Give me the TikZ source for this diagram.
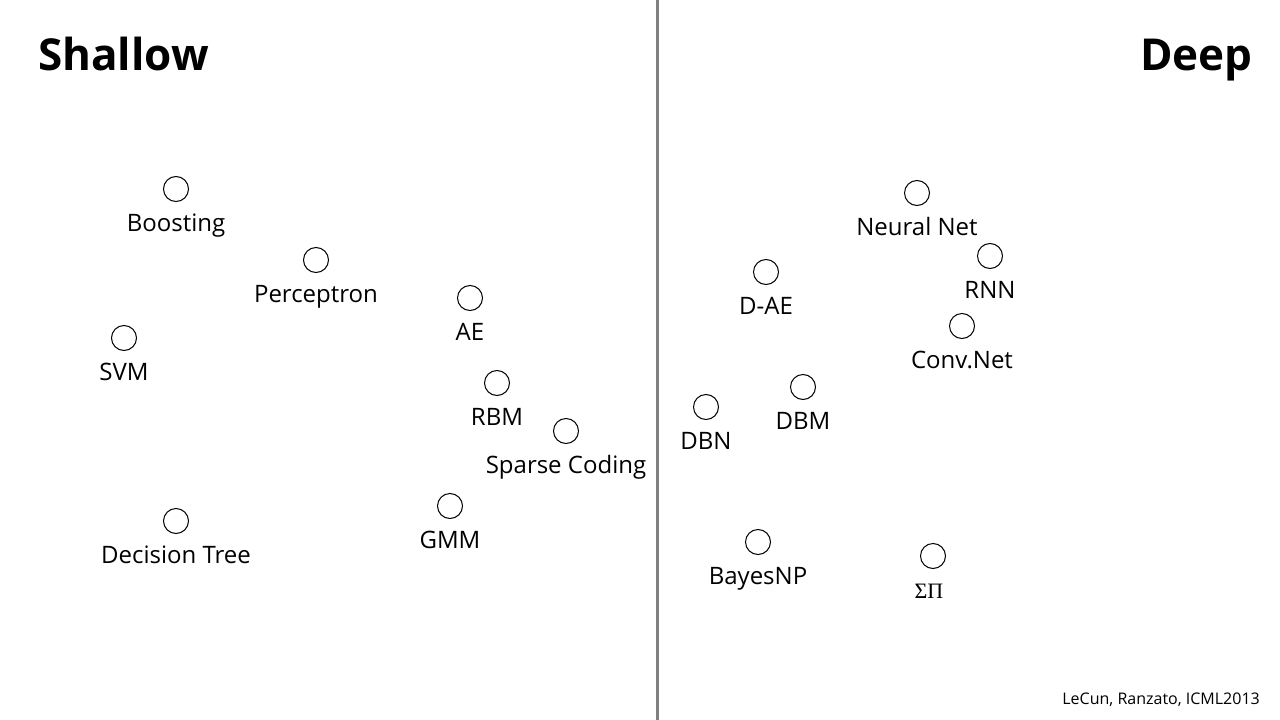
\documentclass[tikz,border=0pt]{standalone}
\usepackage{fontspec}
\setmainfont{Open Sans}
\newfontfamily\greekfont{Liberation Serif}
\usetikzlibrary{positioning}

\tikzset{
    algo/.style={circle, draw=black, line width=1pt, minimum size=25pt, inner sep=0pt},
    algotext/.style={anchor=base, inner sep=0pt, font=\fontsize{24}{28}\selectfont},
    side/.style={inner sep=0pt, font=\fontsize{44}{50}\selectfont\bfseries}
}

\begin{document}
\begin{tikzpicture}[x=1pt, y=-1pt]

    \useasboundingbox[fill=white] (0,0) rectangle (1280,720);

    % 1. The divider between the two halves
    \coordinate (top) at (657,0);
    \coordinate (bottom) at (657,720);
    \draw[gray, line width=3pt] (top) -- (bottom);

    % 2. Headings and credit
    \node[side, anchor=base west] (shallow) at (38,70) {Shallow};
    \node[side, anchor=base east] (deep) at (1253,70) {Deep};
    \node[anchor=base east, inner sep=0pt, font=\fontsize{16}{19}\selectfont]
        (credit) at (1260,704) {LeCun, Ranzato, ICML2013};

    % 3. Shallow methods: circle and name below
    \foreach \n/\x/\y/\t in {boost/176/189/Boosting, perc/316/260/Perceptron,
        ae/470/298/AE, svm/124/338/SVM, rbm/497/383/RBM,
        sparse/566/431/Sparse Coding, gmm/450/506/GMM, dtree/176/521/Decision Tree} {
        \node[algo] (\n) at (\x,\y) {};
        \node[algotext] (\n-l) at ([yshift=-42pt]\n.center) {\t};
    }

    % 4. Deep methods
    \foreach \n/\x/\y/\t in {nnet/917/193/Neural Net, rnn/990/256/RNN,
        dae/766/272/D-AE, conv/962/326/Conv.Net, dbm/803/387/DBM,
        dbn/706/407/DBN, bayes/758/542/BayesNP} {
        \node[algo] (\n) at (\x,\y) {};
        \node[algotext] (\n-l) at ([yshift=-42pt]\n.center) {\t};
    }

    \node[algo] (sumprod) at (933,556) {};
    \node[algotext, font=\fontsize{22}{26}\greekfont] (sumprod-l)
        at ([xshift=-4pt, yshift=-42pt]sumprod.center) {ΣΠ};

\end{tikzpicture}
\end{document}
